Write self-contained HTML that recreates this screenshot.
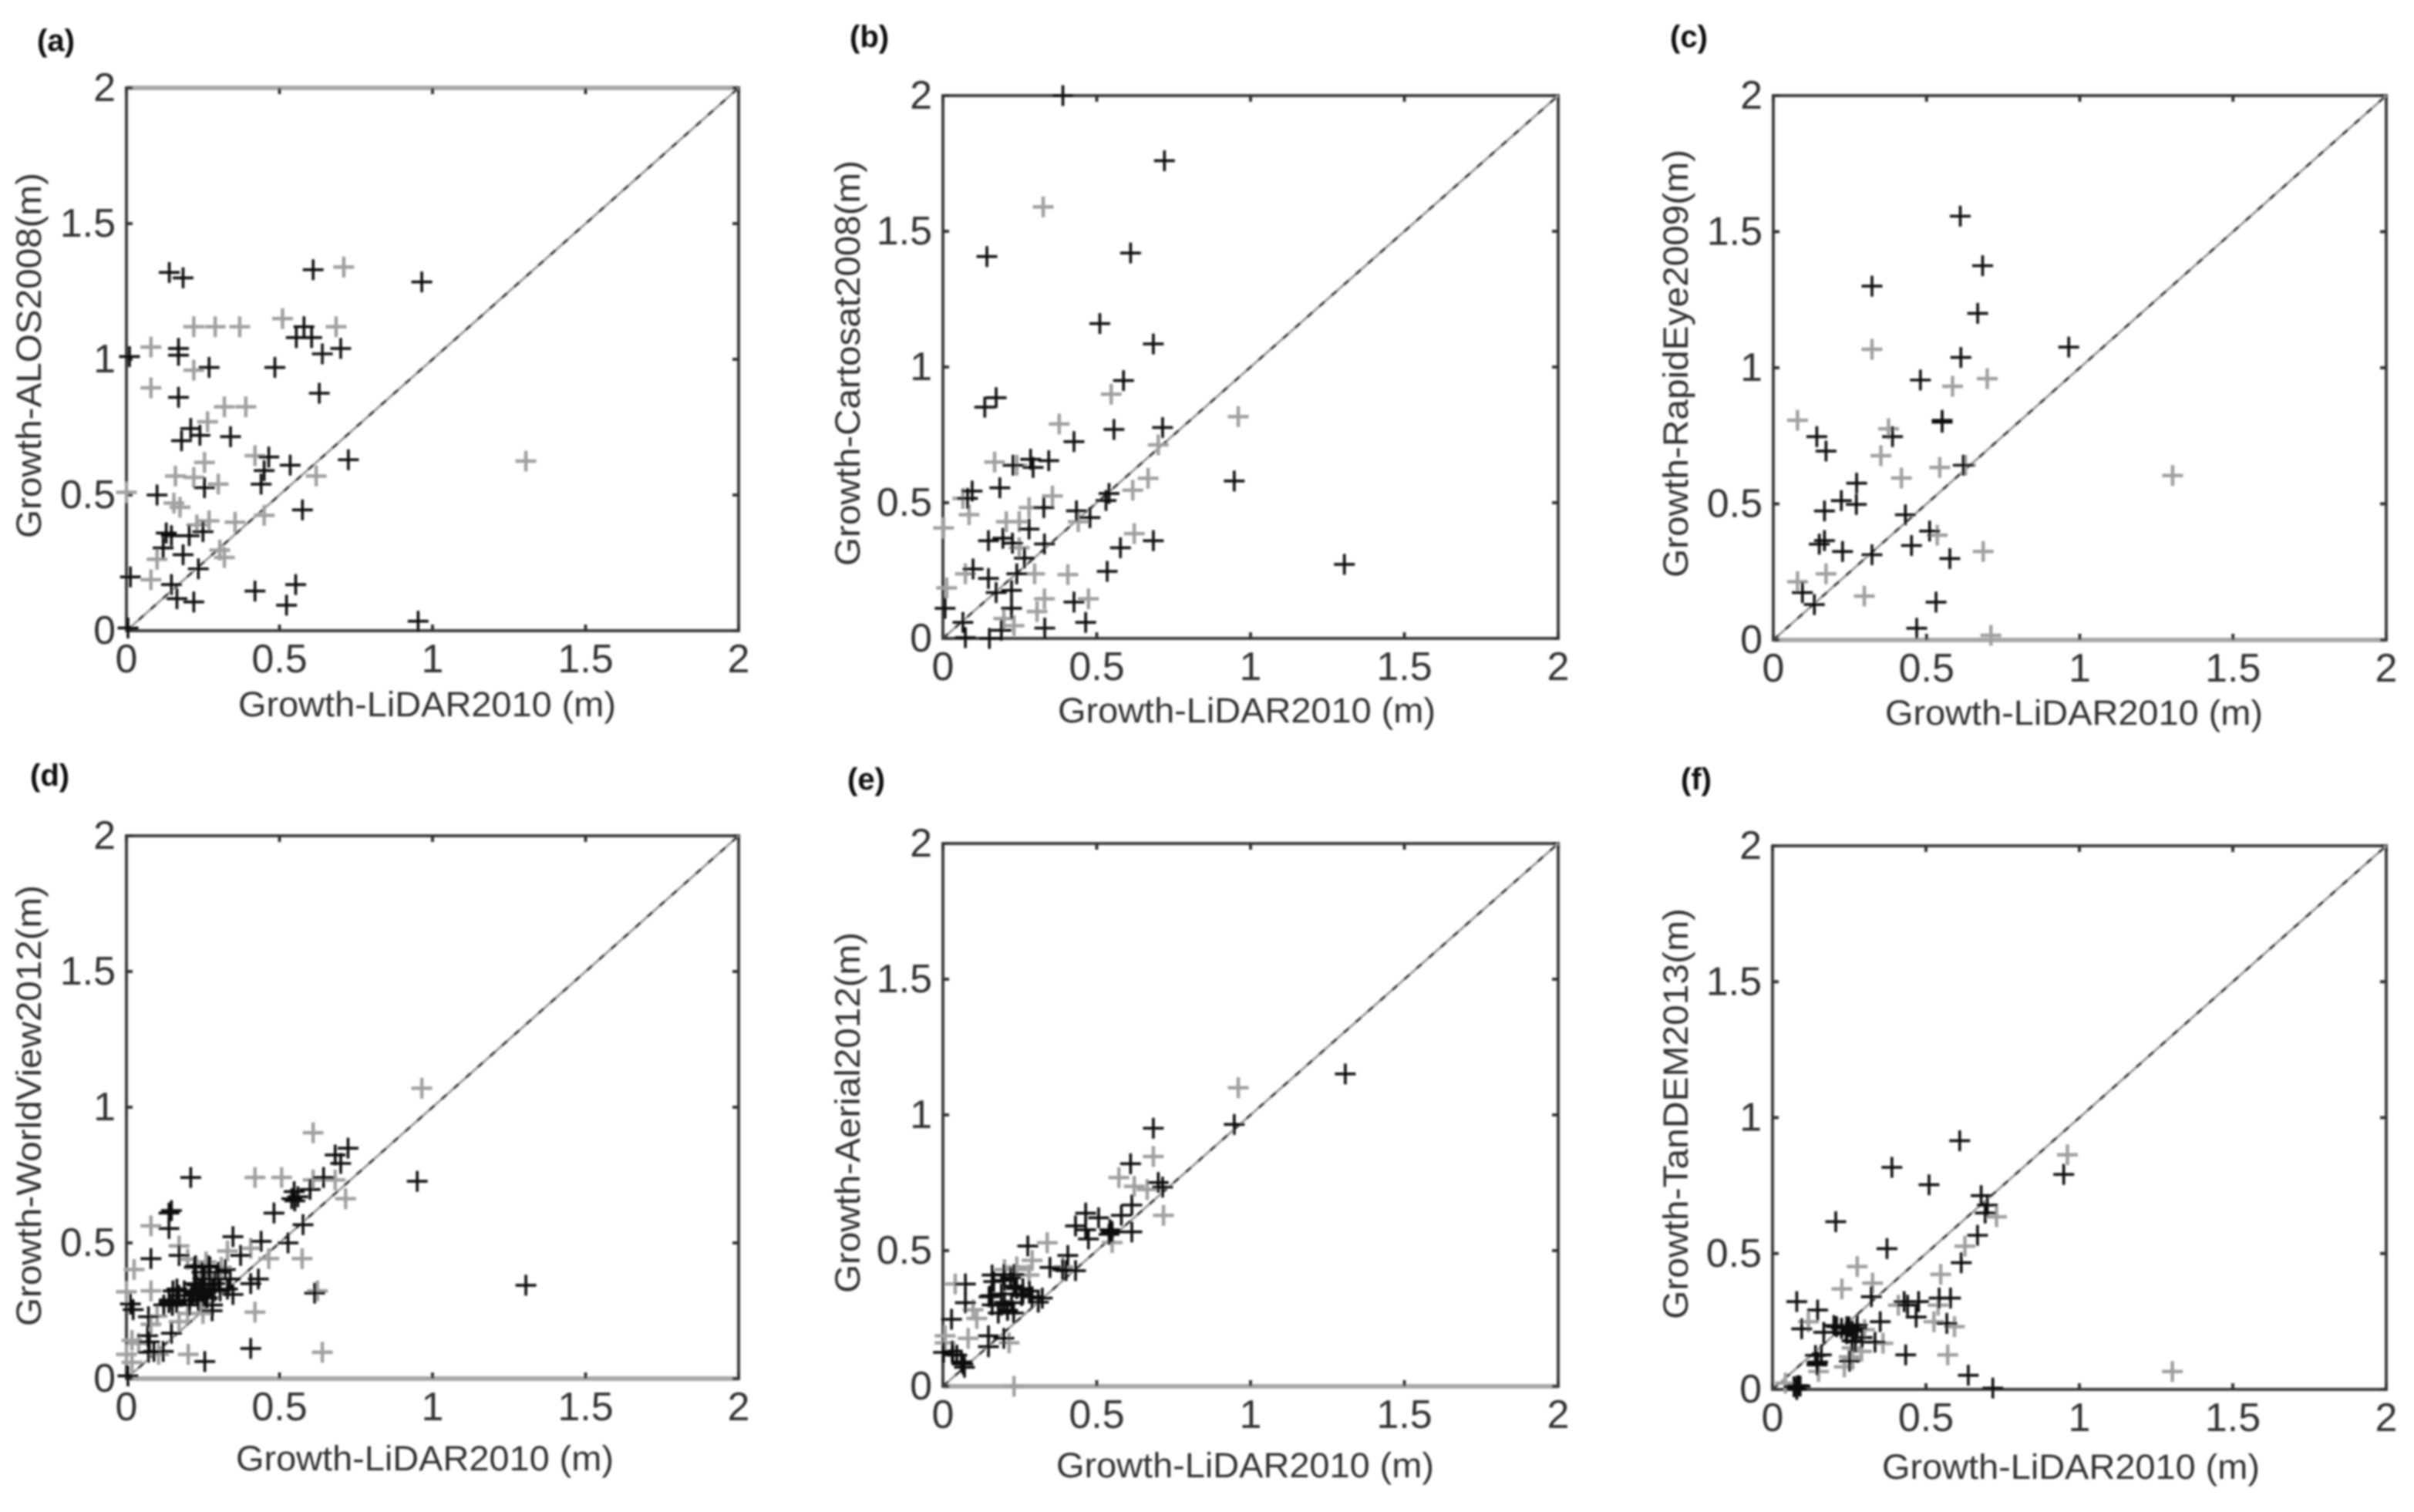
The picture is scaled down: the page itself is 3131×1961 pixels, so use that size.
<!DOCTYPE html>
<html lang="en">
<head>
<meta charset="utf-8">
<title>Growth comparison scatter plots</title>
<style>
html,body{margin:0;padding:0;background:#fff;}
svg{display:block;}
text{font-family:"Liberation Sans",sans-serif;fill:#333;}
.panel-letter{font-weight:bold;font-size:40px;fill:#111;}
.axis-title{font-size:45px;}
.tick-label{font-size:52px;}
</style>
</head>
<body>
<svg id="figure" xmlns="http://www.w3.org/2000/svg" width="3131" height="1961" viewBox="0 0 3131 1961">
<defs><filter id="soft" x="-2%" y="-2%" width="104%" height="104%"><feGaussianBlur stdDeviation="1.2"/></filter></defs>
<g filter="url(#soft)" id="canvas">
<text class="panel-letter" x="48" y="66">(a)</text>
<text class="panel-letter" x="1102" y="61">(b)</text>
<text class="panel-letter" x="2166" y="61">(c)</text>
<text class="panel-letter" x="39" y="1019">(d)</text>
<text class="panel-letter" x="1099" y="1024">(e)</text>
<text class="panel-letter" x="2180" y="1024">(f)</text>

<text class="axis-title" x="309" y="929" textLength="490" lengthAdjust="spacingAndGlyphs">Growth-LiDAR2010 (m)</text>
<text class="axis-title" x="1372" y="937" textLength="490" lengthAdjust="spacingAndGlyphs">Growth-LiDAR2010 (m)</text>
<text class="axis-title" x="2445" y="940" textLength="490" lengthAdjust="spacingAndGlyphs">Growth-LiDAR2010 (m)</text>
<text class="axis-title" x="306" y="1907" textLength="490" lengthAdjust="spacingAndGlyphs">Growth-LiDAR2010 (m)</text>
<text class="axis-title" x="1370" y="1916" textLength="490" lengthAdjust="spacingAndGlyphs">Growth-LiDAR2010 (m)</text>
<text class="axis-title" x="2441" y="1918" textLength="490" lengthAdjust="spacingAndGlyphs">Growth-LiDAR2010 (m)</text>

<text class="axis-title" transform="translate(53,698) rotate(-90)" textLength="474" lengthAdjust="spacingAndGlyphs">Growth-ALOS2008(m)</text>
<text class="axis-title" transform="translate(1115,734) rotate(-90)" textLength="526" lengthAdjust="spacingAndGlyphs">Growth-Cartosat2008(m)</text>
<text class="axis-title" transform="translate(2189,749) rotate(-90)" textLength="555" lengthAdjust="spacingAndGlyphs">Growth-RapidEye2009(m)</text>
<text class="axis-title" transform="translate(53,1720) rotate(-90)" textLength="572" lengthAdjust="spacingAndGlyphs">Growth-WorldView2012(m)</text>
<text class="axis-title" transform="translate(1115,1677) rotate(-90)" textLength="468" lengthAdjust="spacingAndGlyphs">Growth-Aerial2012(m)</text>
<text class="axis-title" transform="translate(2189,1711) rotate(-90)" textLength="533" lengthAdjust="spacingAndGlyphs">Growth-TanDEM2013(m)</text>
</g>
</svg>
<script>
const tickValues = [0, 0.5, 1, 1.5, 2];
const tickLabels = ["0", "0.5", "1", "1.5", "2"];
const axisMax = [2];

const aDarkX = [.14,.185,.61,.965,.58,.555,.605,.64,.70,.17,.17,.01,.27,.485,.17,.63,.21,.24,.34,.18,.465,.535,.725,.45,.44,.255,.10,.575,.25,.13,.147,.205,.12,.185,.235,.013,.147,.42,.553,.165,.22,.523,.953,.005];
const aDarkY = [1.32,1.30,1.33,1.285,1.12,1.08,1.08,1.02,1.04,1.04,1.015,1.01,.97,.97,.86,.875,.745,.72,.715,.70,.64,.61,.63,.59,.54,.527,.50,.445,.365,.36,.35,.35,.305,.28,.228,.198,.17,.146,.17,.118,.106,.094,.035,.01];
const aGrayX = [.71,.22,.29,.37,.51,.685,.64,.08,.22,.08,.32,.39,.265,.255,.42,1.305,.16,.22,.62,.30,0,.155,.175,.45,.27,.355,.23,.10,.305,.32,.08];
const aGrayY = [1.34,1.12,1.12,1.12,1.15,1.12,1.02,1.045,.96,.895,.825,.825,.77,.62,.645,.625,.57,.565,.57,.54,.51,.47,.455,.425,.405,.40,.39,.263,.297,.27,.188];

const bDarkX = [.39,.72,.143,.61,.51,.684,.587,.173,.136,.556,.714,.426,.228,.285,.293,.344,.947,.185,.095,.08,.54,.53,.328,.434,.478,.28,.148,.195,.684,.577,.33,.226,.265,1.305,.534,.098,.148,.24,.173,.223,.426,.007,.223,.065,.464,.331,.073,.151,.19];
const bDarkY = [2,1.76,1.407,1.42,1.16,1.085,.95,.887,.852,.77,.777,.725,.638,.66,.63,.655,.58,.555,.543,.516,.534,.508,.482,.47,.445,.403,.36,.369,.36,.334,.348,.351,.296,.273,.247,.256,.221,.238,.169,.177,.134,.111,.111,.059,.059,.038,.003,0,.03];
const bGrayX = [.326,.547,.378,.70,.96,.168,.24,.667,.065,.617,.356,.28,.085,.44,.206,.248,.002,.622,.248,.406,.073,.298,.012,.33,.473,.306,.198,.231];
const bGrayY = [1.59,.90,.79,.713,.817,.65,.638,.59,.516,.546,.525,.482,.456,.43,.43,.43,.407,.386,.334,.235,.238,.238,.186,.146,.146,.099,.073,.047];

const cDarkX = [.61,.683,.322,.667,.964,.612,.48,.551,.551,.142,.389,.172,.62,.272,.222,.271,.167,.431,.51,.167,.15,.451,.226,.322,.576,.095,.134,.531,.468];
const cDarkY = [1.557,1.375,1.30,1.20,1.076,1.038,.955,.807,.80,.747,.747,.694,.642,.576,.512,.498,.474,.46,.40,.365,.352,.347,.325,.313,.299,.174,.13,.139,.043];
const cGrayX = [.322,.585,.698,.079,.376,.351,.543,.627,.418,1.303,.535,.685,.172,.079,.297,.71];
const cGrayY = [1.068,.932,.96,.807,.776,.677,.634,.642,.595,.604,.385,.325,.243,.214,.161,.017];

const dDarkX = [.724,.682,.70,.21,.644,.95,.548,.54,.6,.482,.139,.147,.577,.139,.348,.528,.44,.172,.373,.08,.222,.273,.323,.256,.339,.431,.406,.152,.289,.222,.247,.615,.348,.172,.214,.139,.013,.281,.022,.072,.069,.147,.072,.406,.256,.005,1.305,.189,.23,.256,.306,.206,.164,.122,.264,.206,.226,.247,.268,.30,.30,.25,.23,.27,.22,.25,.205,.235,.26,.24,.28,.33,.165,.14,.15,.28,.075,.09,.12,.55,.56];
const dDarkY = [.849,.824,.793,.741,.741,.727,.689,.663,.697,.61,.61,.619,.567,.553,.523,.50,.506,.454,.454,.442,.41,.41,.402,.367,.367,.367,.35,.323,.35,.35,.332,.315,.31,.306,.306,.28,.275,.271,.254,.228,.158,.167,.097,.111,.063,.01,.344,.323,.306,.306,.323,.289,.28,.271,.297,.271,.416,.392,.416,.392,.368,.368,.345,.345,.316,.316,.29,.287,.30,.33,.33,.33,.33,.29,.27,.25,.135,.10,.10,.655,.67];
const dGrayX = [.965,.61,.42,.507,.61,.682,.716,.08,.172,.406,.465,.574,.025,.624,.08,0,.42,.172,.018,.105,0,.202,.64,.018,.33,.2,.25,.08,.3,.27,.24,.31,.2,.26,.04,.1];
const dGrayY = [1.07,.906,.741,.741,.732,.732,.663,.563,.489,.48,.442,.442,.402,.323,.323,.32,.245,.21,.141,.089,.089,.089,.097,.06,.47,.44,.24,.2,.37,.38,.28,.41,.24,.43,.13,.23];

const eDarkX = [1.308,.684,.947,.61,.714,.70,.614,.464,.506,.58,.431,.464,.547,.614,.473,.276,.406,.348,.389,.431,.231,.165,.073,.198,.231,.281,.323,.156,.073,.256,.19,.223,.028,.148,.198,.148,.002,.032,.065,.54,.26,.21,.16,.16,.2,.22,.24,.26,.29,.31,.2,.21,.18,.23,.15,.19,.03,.045,.06,.07,.543,.55,.40];
const eDarkY = [1.151,.951,.965,.82,.734,.751,.668,.638,.621,.63,.591,.577,.569,.569,.543,.517,.482,.438,.43,.426,.412,.386,.377,.412,.369,.351,.325,.334,.308,.334,.299,.308,.247,.186,.177,.146,.125,.117,.082,.56,.36,.28,.30,.41,.39,.40,.36,.34,.33,.31,.31,.28,.27,.27,.33,.34,.13,.115,.09,.07,.577,.57,.426];
const eGrayX = [.96,.684,.572,.622,.664,.717,.339,.29,.39,.098,.007,.082,.215,.231,.55,.2,.04,.24,.007,.24,.28,.11];
const eGrayY = [1.10,.847,.769,.737,.725,.63,.529,.464,.44,.282,.186,.177,.16,0,.53,.43,.377,.43,.16,.44,.41,.25];

const fDarkX = [.61,.389,.949,.51,.68,.70,.693,.206,.668,.373,.615,.322,.079,.147,.429,.476,.543,.58,.468,.568,.351,.095,.167,.209,.242,.276,.242,.259,.292,.334,.434,.159,.147,.251,.638,.718,.084,.079,.2,.225,.25,.26,.24,.275,.27,.14,.145,.145,.07,.08,.09,.44];
const fDarkY = [.915,.817,.791,.753,.713,.678,.649,.617,.567,.518,.466,.341,.323,.292,.323,.323,.336,.336,.266,.243,.249,.223,.21,.231,.231,.237,.205,.179,.191,.174,.127,.127,.101,.104,.052,.005,.014,0,.235,.225,.23,.215,.21,.225,.175,.125,.09,.10,.01,.012,.012,.31];
const fGrayX = [.961,.627,.276,.548,.326,.226,.41,.526,.593,.117,.36,.259,.571,.234,.15,1.303,.042,.73,.3,.25,.29,.54,.26];
const fGrayY = [.863,.527,.452,.423,.391,.37,.31,.249,.231,.249,.17,.153,.127,.083,.066,.066,.023,.635,.22,.12,.14,.31,.11];

const seriesByPanel = {
  a: { darkX: aDarkX, darkY: aDarkY, grayX: aGrayX, grayY: aGrayY },
  b: { darkX: bDarkX, darkY: bDarkY, grayX: bGrayX, grayY: bGrayY },
  c: { darkX: cDarkX, darkY: cDarkY, grayX: cGrayX, grayY: cGrayY },
  d: { darkX: dDarkX, darkY: dDarkY, grayX: dGrayX, grayY: dGrayY },
  e: { darkX: eDarkX, darkY: eDarkY, grayX: eGrayX, grayY: eGrayY },
  f: { darkX: fDarkX, darkY: fDarkY, grayX: fGrayX, grayY: fGrayY }
};

/* plot-area rectangles (layout, not data) */
const frames = {
  a: { l: 164, r: 958, t: 114, b: 818, fade: 'top' },
  b: { l: 1223, r: 2021, t: 124, b: 828, fade: '' },
  c: { l: 2300, r: 3095, t: 124, b: 830, fade: 'bottom' },
  d: { l: 164, r: 958, t: 1084, b: 1788, fade: 'bottom' },
  e: { l: 1223, r: 2021, t: 1094, b: 1798, fade: 'bottom' },
  f: { l: 2299, r: 3095, t: 1097, b: 1802, fade: '' }
};

const SVG_NS = 'http://www.w3.org/2000/svg';
const canvas = document.getElementById('canvas');

function xScale(f, v) { return f.l + (v / axisMax[0]) * (f.r - f.l); }
function yScale(f, v) { return f.b - (v / axisMax[0]) * (f.b - f.t); }

function drawMarks(group, f, xs, ys, color, width, name) {
  const arm = 13.5;
  for (let i = 0; i < xs.length; i++) {
    const px = xScale(f, xs[i]);
    const py = yScale(f, ys[i]);
    const el = document.createElementNS(SVG_NS, 'path');
    
    
    el.setAttribute('d', 'M' + (px - arm) + ' ' + py + 'H' + (px + arm) + 'M' + px + ' ' + (py - arm) + 'V' + (py + arm));
    el.setAttribute('stroke', color);
    el.setAttribute('stroke-width', width);
    el.setAttribute('fill', 'none');
    group.appendChild(el);
  }
}

function drawPanel(key) {
  const f = frames[key];
  const s = seriesByPanel[key];
  const group = document.createElementNS(SVG_NS, 'g');
  
  
  canvas.appendChild(group);

  const frame = document.createElementNS(SVG_NS, 'rect');
  
  
  frame.setAttribute('x', f.l);
  frame.setAttribute('y', f.t);
  frame.setAttribute('width', f.r - f.l);
  frame.setAttribute('height', f.b - f.t);
  frame.setAttribute('fill', 'none');
  frame.setAttribute('stroke', '#3c3c3c');
  frame.setAttribute('stroke-width', '4');
  group.appendChild(frame);

  if (f.fade) {
    const edgeY = f.fade === 'top' ? f.t : f.b;
    const edge = document.createElementNS(SVG_NS, 'line');
    
    
    edge.setAttribute('x1', f.l);
    edge.setAttribute('x2', f.r);
    edge.setAttribute('y1', edgeY);
    edge.setAttribute('y2', edgeY);
    edge.setAttribute('stroke', '#a8a8a8');
    edge.setAttribute('stroke-width', '6');
    group.appendChild(edge);
  }

  for (let i = 0; i < tickValues.length; i++) {
    const tx = xScale(f, tickValues[i]);
    const ty = yScale(f, tickValues[i]);
    const ticks = document.createElementNS(SVG_NS, 'path');
    
    
    ticks.setAttribute('d', 'M' + tx + ' ' + f.b + 'v-8M' + tx + ' ' + f.t + 'v8M' + f.l + ' ' + ty + 'h8M' + f.r + ' ' + ty + 'h-8');
    ticks.setAttribute('stroke', '#333');
    ticks.setAttribute('stroke-width', '4');
    group.appendChild(ticks);

    const xl = document.createElementNS(SVG_NS, 'text');
    
    
    xl.setAttribute('class', 'tick-label');
    xl.setAttribute('x', tx);
    xl.setAttribute('y', f.b + 54);
    xl.setAttribute('text-anchor', 'middle');
    xl.textContent = tickLabels[i];
    group.appendChild(xl);

    const yl = document.createElementNS(SVG_NS, 'text');
    
    
    yl.setAttribute('class', 'tick-label');
    yl.setAttribute('x', f.l - 14);
    yl.setAttribute('y', ty + 17);
    yl.setAttribute('text-anchor', 'end');
    yl.textContent = tickLabels[i];
    group.appendChild(yl);
  }

  const diag = document.createElementNS(SVG_NS, 'line');
  
  
  diag.setAttribute('x1', xScale(f, 0));
  diag.setAttribute('y1', yScale(f, 0));
  diag.setAttribute('x2', xScale(f, axisMax[0]));
  diag.setAttribute('y2', yScale(f, axisMax[0]));
  diag.setAttribute('stroke', '#9c9c9c');
  diag.setAttribute('stroke-width', '3');
  group.appendChild(diag);

  const diagDark = document.createElementNS(SVG_NS, 'line');
  
  
  diagDark.setAttribute('x1', xScale(f, 0));
  diagDark.setAttribute('y1', yScale(f, 0));
  diagDark.setAttribute('x2', xScale(f, axisMax[0]));
  diagDark.setAttribute('y2', yScale(f, axisMax[0]));
  diagDark.setAttribute('stroke', '#3a3a3a');
  diagDark.setAttribute('stroke-width', '3');
  diagDark.setAttribute('stroke-dasharray', '9 12');
  group.appendChild(diagDark);

  drawMarks(group, f, s.grayX, s.grayY, '#a0a0a0', 4.5, 'data-point-light');
  drawMarks(group, f, s.darkX, s.darkY, '#0c0c0c', 3.6, 'data-point-dark');
}

Object.keys(frames).forEach(drawPanel);
</script>
</body>
</html>
